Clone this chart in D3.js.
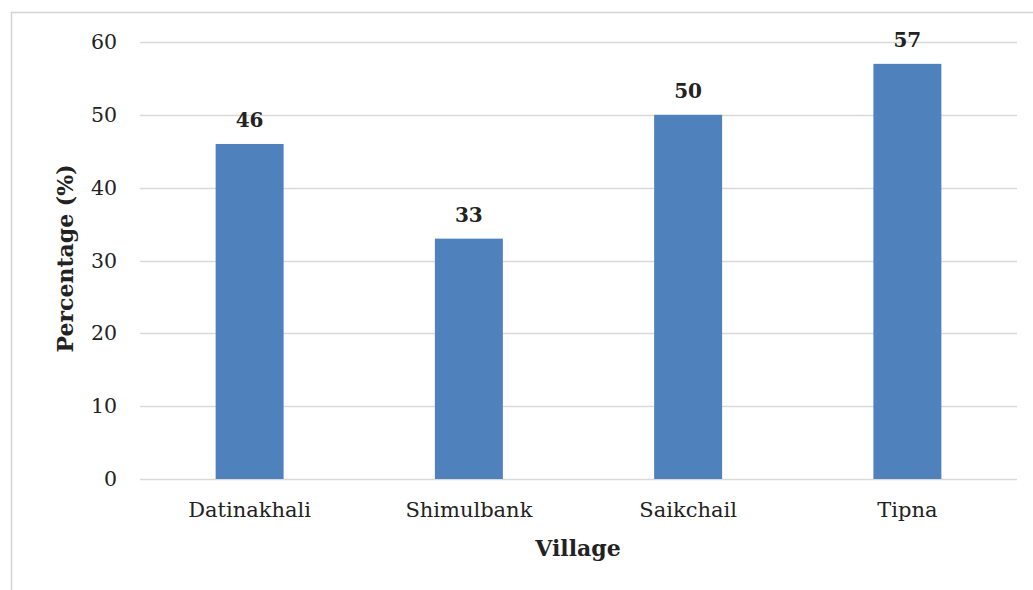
<!DOCTYPE html>
<html>
<head>
<meta charset="utf-8">
<script src="https://cdn.jsdelivr.net/npm/d3@7"></script>
<style>
  html, body { margin: 0; padding: 0; background: #fff; }
  svg text { font-family: "DejaVu Serif", "Liberation Serif", serif; fill: #222; }
</style>
</head>
<body>
<svg id="chart" width="1033" height="590"></svg>
<script>
// Share of respondents per village
const villages = ["Datinakhali", "Shimulbank", "Saikchail", "Tipna"];
const percentages = [46, 33, 50, 57];
const yTicks = [0, 10, 20, 30, 40, 50, 60];

const svg = d3.select("#chart");
const W = 1033, H = 590;
const plot = { left: 140, right: 1017, top: 42, bottom: 479 };

// chart frame (top and left edges only visible)
svg.append("rect")
  .attr("x", 11.5).attr("y", 12.5)
  .attr("width", W + 20).attr("height", H + 20)
  .attr("fill", "none").attr("stroke", "#d4d4d4").attr("stroke-width", 1.5);

const x = d3.scaleBand().domain(villages).range([plot.left, plot.right]).paddingInner(0.69).paddingOuter(0.345);
const y = d3.scaleLinear().domain([0, 60]).range([plot.bottom, plot.top]);

// gridlines
svg.append("g")
  .selectAll("line").data(yTicks).join("line")
  .attr("x1", plot.left).attr("x2", plot.right)
  .attr("y1", d => Math.round(y(d)) + 0.5).attr("y2", d => Math.round(y(d)) + 0.5)
  .attr("stroke", "#d9d9d9").attr("stroke-width", 1.5);

// y axis labels
const yAxis = d3.axisLeft(y).tickValues(yTicks).tickSize(0).tickPadding(0);
const ga = svg.append("g").attr("transform", `translate(${plot.left - 23},0)`).call(yAxis);
ga.select(".domain").remove();
ga.selectAll("text").style("font-size", "20.5px").style("font-family", "DejaVu Serif, serif").attr("fill", "#222");

// bars
svg.append("g")
  .selectAll("rect").data(villages).join("rect")
  .attr("x", d => x(d))
  .attr("width", x.bandwidth())
  .attr("y", (d, i) => y(percentages[i]))
  .attr("height", (d, i) => y(0) - y(percentages[i]))
  .attr("fill", "#4f81bd");

// value labels
svg.append("g")
  .selectAll("text").data(villages).join("text")
  .attr("x", d => x(d) + x.bandwidth() / 2)
  .attr("y", (d, i) => y(percentages[i]) - 17)
  .attr("text-anchor", "middle")
  .style("font-size", "20px").style("font-weight", "bold")
  .text((d, i) => percentages[i]);

// x axis labels
const xAxis = d3.axisBottom(x).tickSize(0).tickPadding(0);
const gx = svg.append("g").attr("transform", `translate(0,${plot.bottom})`).call(xAxis);
gx.select(".domain").remove();
gx.selectAll("text").style("font-size", "21px").style("font-family", "DejaVu Serif, serif")
  .attr("fill", "#222").attr("y", 38).attr("dy", null);

// axis titles
svg.append("text")
  .attr("x", 578).attr("y", 556)
  .attr("text-anchor", "middle")
  .style("font-size", "22px").style("font-weight", "bold")
  .text("Village");

svg.append("text")
  .attr("transform", `translate(73,${(plot.top + plot.bottom) / 2 - 2}) rotate(-90)`)
  .attr("text-anchor", "middle")
  .style("font-size", "22px").style("font-weight", "bold")
  .text("Percentage (%)");
</script>
</body>
</html>
